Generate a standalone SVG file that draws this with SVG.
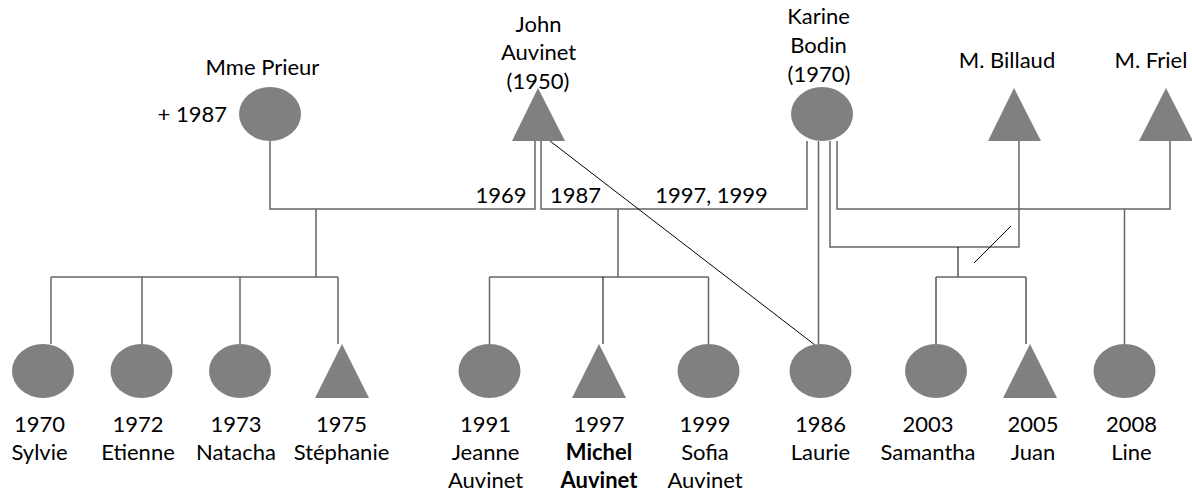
<svg xmlns="http://www.w3.org/2000/svg" width="1192" height="494" viewBox="0 0 1192 494">
<style>
text{font-family:Lato,"Open Sans","Liberation Sans",sans-serif;font-size:22px;fill:#000;text-anchor:middle}
.b{font-weight:bold}
.p{fill:#808080;stroke:none}
.g{fill:none;stroke:#666;stroke-width:1.5}
.k{fill:none;stroke:#000;stroke-width:1}
</style>
<rect width="1192" height="494" fill="#fff"/>
<g id="connectors">
<path class="g" d="M270,141V209H535V141"/>
<path class="g" d="M541,141V209H807V141"/>
<path class="g" d="M818.5,141V344"/>
<path class="g" d="M830,141V247H1019V141"/>
<path class="g" d="M837,141V209H1170V141"/>
<path class="k" d="M550,141L815,345"/>
<path class="k" d="M1011,226L974,263"/>
<path class="g" d="M316,209V277M51,277H338M51,277V344M142,277V344M240,277V344M338,277V344"/>
<path class="g" d="M618,209V277M489.5,277H708.5M489.5,277V344M708.5,277V344"/>
<path class="k" d="M603,277V344"/>
<path class="k" d="M958,247V277M1026,277V344M936,277V344"/>
<path class="g" d="M936,277H1026"/>
<path class="g" d="M1124.5,209V344"/>
<text x="501" y="203">1969</text>
<text x="575.5" y="203">1987</text>
<text x="711.5" y="203">1997, 1999</text>
</g>
<g id="mme-prieur">
<ellipse class="p" cx="270" cy="114" rx="31" ry="27"/>
<text x="262.5" y="75">Mme Prieur</text>
<text x="227" y="122" style="text-anchor:end">+ 1987</text>
</g>
<g id="john-auvinet">
<polygon class="p" points="538,88 512,141 565,141"/>
<text x="538.5" y="31.5">John</text>
<text x="538.5" y="60">Auvinet</text>
<text x="538" y="89">(1950)</text>
</g>
<g id="karine-bodin">
<ellipse class="p" cx="822" cy="114" rx="31" ry="27"/>
<text x="818.5" y="23.5">Karine</text>
<text x="818.5" y="53">Bodin</text>
<text x="819" y="82">(1970)</text>
</g>
<g id="m-billaud">
<polygon class="p" points="1014,88 988,141 1041,141"/>
<text x="1007" y="67.5">M. Billaud</text>
</g>
<g id="m-friel">
<polygon class="p" points="1166,88 1139,141 1193,141"/>
<text x="1151" y="67.5">M. Friel</text>
</g>
<g id="sylvie">
<ellipse class="p" cx="43" cy="371" rx="31" ry="27"/>
<text x="39.5" y="431.5">1970</text>
<text x="39.5" y="459.5">Sylvie</text>
</g>
<g id="etienne">
<ellipse class="p" cx="141.5" cy="371" rx="31" ry="27"/>
<text x="138" y="431.5">1972</text>
<text x="138" y="459.5">Etienne</text>
</g>
<g id="natacha">
<ellipse class="p" cx="240" cy="371" rx="31" ry="27"/>
<text x="236" y="431.5">1973</text>
<text x="236" y="459.5">Natacha</text>
</g>
<g id="stephanie">
<polygon class="p" points="342,344 315,398 369,398"/>
<text x="341.5" y="431.5">1975</text>
<text x="341.5" y="459.5">Stéphanie</text>
</g>
<g id="jeanne">
<ellipse class="p" cx="489.5" cy="371" rx="31" ry="27"/>
<text x="485.5" y="431.5">1991</text>
<text x="485.5" y="459.5">Jeanne</text>
<text x="485.5" y="488">Auvinet</text>
</g>
<g id="michel">
<polygon class="p" points="599,344 572,398 626,398"/>
<text x="599" y="431.5">1997</text>
<text x="599" y="459.5" class="b">Michel</text>
<text x="599" y="488" class="b">Auvinet</text>
</g>
<g id="sofia">
<ellipse class="p" cx="708.5" cy="371" rx="31" ry="27"/>
<text x="705" y="431.5">1999</text>
<text x="705" y="459.5">Sofia</text>
<text x="705" y="488">Auvinet</text>
</g>
<g id="laurie">
<ellipse class="p" cx="820.5" cy="371" rx="31" ry="27"/>
<text x="820.5" y="431.5">1986</text>
<text x="820.5" y="459.5">Laurie</text>
</g>
<g id="samantha">
<ellipse class="p" cx="936" cy="371" rx="31" ry="27"/>
<text x="928" y="431.5">2003</text>
<text x="928" y="459.5">Samantha</text>
</g>
<g id="juan">
<polygon class="p" points="1030,344 1003,398 1057,398"/>
<text x="1033" y="431.5">2005</text>
<text x="1033" y="459.5">Juan</text>
</g>
<g id="line">
<ellipse class="p" cx="1124.5" cy="371" rx="31" ry="27"/>
<text x="1131.5" y="431.5">2008</text>
<text x="1131.5" y="459.5">Line</text>
</g>
</svg>
